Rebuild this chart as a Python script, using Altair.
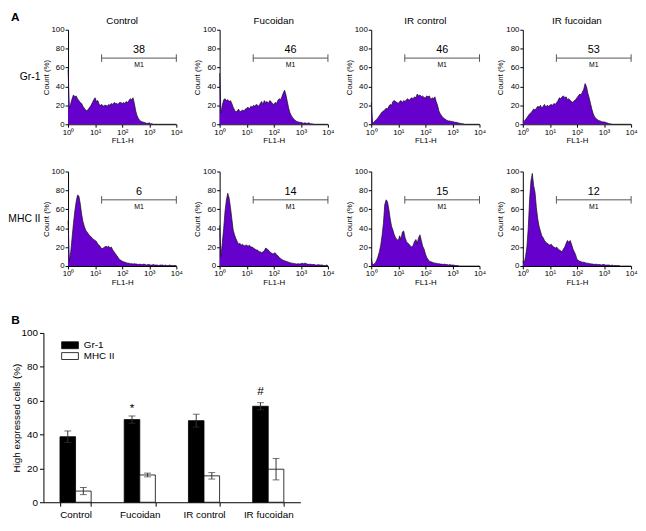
import altair as alt
import pandas as pd

FONT = "Liberation Sans"
PURPLE = "#6600cc"

conditions = ["Control", "Fucoidan", "IR control", "IR fucoidan"]
markers = ["Gr-1", "MHC II"]
decade_labels = ["10\u2070", "10\u00b9", "10\u00b2", "10\u00b3", "10\u2074"]

# Histogram heights, Count (%), one value every 0.05 decade from 10^0 to 10^4
gr1_control = [58, 17, 22, 27, 31, 29, 30, 27, 25, 23,
               22, 19, 17, 15, 14, 16, 18, 20, 23, 26,
               28, 24, 25, 21, 20, 21, 19, 20, 20, 19,
               21, 20, 22, 21, 23, 22, 22, 21, 23, 23,
               22, 23, 22, 24, 23, 25, 27, 26, 28, 22,
               14, 9, 6, 4, 3, 2.5, 2, 1.5, 1, 1,
               1.5, 0.5, 0.5, 0, 0, 0, 0, 0, 0, 0,
               0, 0, 0, 0, 0, 0, 0, 0, 0, 0,
               0]
gr1_fucoidan = [54, 12, 20, 26, 27, 25, 26, 24, 25, 22,
                18, 15, 13, 14, 16, 13, 14, 15, 14, 16,
                17, 18, 16, 19, 18, 20, 19, 21, 20, 19,
                22, 24, 21, 25, 23, 24, 22, 25, 24, 22,
                21, 23, 22, 25, 27, 26, 29, 33, 36, 31,
                24, 17, 12, 9, 7, 5, 4, 3, 2.5, 2,
                2, 1.5, 1, 1.5, 1, 1, 1.5, 0.5, 0.5, 0.3,
                0, 0, 0, 0, 0, 0, 0, 0, 0, 0,
                0]
gr1_ir_control = [23, 1, 2, 4, 5, 7, 9, 11, 13, 14,
                  15, 17, 16, 19, 21, 20, 24, 25, 24, 23,
                  22, 24, 25, 23, 25, 24, 26, 27, 25, 27,
                  28, 27, 29, 28, 32, 30, 31, 29, 30, 28,
                  28, 30, 29, 30, 26, 28, 27, 29, 24, 20,
                  14, 11, 9, 7, 6, 5, 4, 3.5, 3.5, 3,
                  3, 2.5, 2, 2, 1.5, 1, 1, 0.5, 0.5, 0,
                  0, 0, 0, 0, 0, 0, 0, 0, 0, 0,
                  0]
gr1_ir_fucoidan = [4, 3, 5, 7, 9, 11, 12, 14, 16, 15,
                   17, 19, 18, 20, 17, 19, 21, 18, 20, 19,
                   20, 21, 20, 22, 21, 23, 25, 28, 27, 29,
                   30, 28, 29, 26, 27, 25, 24, 23, 25, 26,
                   28, 30, 32, 31, 34, 37, 43, 40, 33, 28,
                   22, 16, 11, 8, 6, 5, 4, 3.5, 3, 2.5,
                   2.5, 2, 1.5, 1, 0.5, 0.5, 0, 0, 0, 0,
                   0, 0, 0, 0, 0, 0, 0, 0, 0, 0,
                   0]
mhc_control = [48, 5, 15, 30, 45, 58, 68, 75, 74, 66,
               55, 47, 42, 38, 36, 34, 32, 31, 29, 28,
               27, 26, 23, 22, 20, 18, 19, 20, 21, 20,
               21, 19, 20, 17, 15, 13, 11, 9, 7, 6,
               5, 4.5, 4, 3.5, 3, 3, 2.5, 2.5, 2, 2.5,
               2, 2, 1.5, 2, 1.5, 1.5, 2, 1.5, 1, 1.5,
               1.5, 1, 1, 1.5, 1, 1, 1, 0.5, 1, 1,
               1, 0.5, 1, 0.5, 0.5, 1, 0.5, 0.5, 0.5, 0.5,
               0.5]
mhc_fucoidan = [43, 10, 25, 40, 58, 70, 77, 72, 62, 50,
                38, 33, 29, 26, 23, 24, 22, 23, 21, 22,
                22, 21, 22, 20, 20, 19, 18, 17, 17, 15,
                15, 14, 15, 16, 19, 18, 17, 15, 14, 13,
                13, 14, 12, 11, 9, 8, 7, 6, 5.5, 5,
                4.5, 4, 3.5, 3, 3, 2.5, 2.5, 2, 2.5, 2,
                2.5, 3, 2.5, 3, 2.5, 2, 1.5, 2, 1.5, 1.5,
                1.5, 1, 1, 1.5, 1, 1, 1, 0.5, 0.5, 1,
                0.5]
mhc_ir_control = [8, 1, 2, 3, 6, 10, 15, 22, 32, 45,
                  65, 70, 68, 60, 50, 42, 38, 33, 30, 28,
                  27, 32, 28, 36, 37, 30, 26, 24, 23, 21,
                  20, 22, 26, 28, 24, 30, 33, 27, 21, 18,
                  13, 9, 7, 5, 4.5, 4, 3.5, 3, 3, 2.5,
                  2.5, 2, 2, 1.5, 2, 1.5, 1.5, 1, 1.5, 1,
                  1, 1, 0.5, 0.5, 0.5, 0, 0, 0, 0, 0,
                  0, 0, 0, 0, 0, 0, 0, 0, 0, 0,
                  0]
mhc_ir_fucoidan = [5, 3, 10, 20, 40, 70, 90, 98, 85, 78,
                   62, 50, 42, 37, 32, 30, 27, 25, 24, 23,
                   22, 23, 21, 20, 19, 20, 18, 17, 16, 15,
                   18, 20, 24, 27, 25, 27, 23, 18, 15, 12,
                   7, 6, 5, 4.5, 4, 4, 3.5, 3, 3, 2.5,
                   2.5, 2, 2, 1.5, 2, 1.5, 1.5, 1.5, 1, 1.5,
                   1.5, 1, 1, 1, 1, 0.5, 1, 0.5, 0.5, 0.5,
                   0.5, 0.5, 0, 0, 0, 0, 0, 0, 0, 0,
                   0]

# M1 gate percentages
m1_gr1 = [38, 46, 46, 53]
m1_mhc = [6, 14, 15, 12]

# Panel B
gr1_mean = [38.7, 48.8, 48.2, 56.7]
gr1_err = [3.4, 2.2, 3.8, 2.1]
mhc_mean = [6.6, 16.1, 15.6, 19.5]
mhc_err = [2.1, 1.1, 1.9, 6.3]
sig_text = ["", "*", "", "#"]
sig_y = [0, 55.4, 0, 65.5]

# ---------------- histogram table ----------------
hist_series = {
    ("Gr-1", "Control"): gr1_control,
    ("Gr-1", "Fucoidan"): gr1_fucoidan,
    ("Gr-1", "IR control"): gr1_ir_control,
    ("Gr-1", "IR fucoidan"): gr1_ir_fucoidan,
    ("MHC II", "Control"): mhc_control,
    ("MHC II", "Fucoidan"): mhc_fucoidan,
    ("MHC II", "IR control"): mhc_ir_control,
    ("MHC II", "IR fucoidan"): mhc_ir_fucoidan,
}
rows = []
for (mk, cd), vals in hist_series.items():
    for i, v in enumerate(vals):
        rows.append({"kind": "hist", "marker": mk, "cond": cd, "x": round(i * 0.05, 2), "y": v})
gate_lo, gate_hi, gate_y = 1.24, 4.0, 70
for mk, pcts in zip(markers, [m1_gr1, m1_mhc]):
    for cd, p in zip(conditions, pcts):
        rows.append({"kind": "gate", "marker": mk, "cond": cd, "x": gate_lo, "x2": gate_hi,
                     "y": gate_y, "ylo": gate_y - 4, "yhi": gate_y + 4,
                     "xm": (gate_lo + gate_hi) / 2, "ynum": 78, "ym1": 62.5, "label": str(p)})
for mk in markers:
    rows.append({"kind": "rowlabel", "marker": mk, "cond": conditions[0], "label": mk, "tag": "A"})
hdf = pd.DataFrame(rows)

xs = alt.Scale(domain=[0, 4], nice=False, zero=False)
ys = alt.Scale(domain=[0, 100], nice=False)
label_expr = "['" + "','".join(decade_labels) + "'][datum.value]"
x_axis = alt.Axis(values=[0, 1, 2, 3, 4], labelExpr=label_expr, title="FL1-H",
                  labelFontSize=8, titleFontSize=8, tickSize=3, labelPadding=1,
                  titlePadding=1, titleFontWeight="normal", labelFlush=False)
y_axis = alt.Axis(values=[0, 20, 40, 60, 80, 100], title="Count (%)",
                  labelFontSize=8, titleFontSize=8, tickSize=3, labelPadding=1,
                  titlePadding=1, titleFontWeight="normal", labelFlush=False)


def hx(field):
    return alt.X(field, type="quantitative", scale=xs, axis=x_axis)


def hy(field):
    return alt.Y(field, type="quantitative", scale=ys, axis=y_axis)


base = alt.Chart()
area = base.mark_area(color=PURPLE, opacity=1,
                      line={"color": "#111111", "strokeWidth": 0.7}).transform_filter(
    "datum.kind == 'hist'").encode(x=hx("x"), y=hy("y"))
gates = base.transform_filter("datum.kind == 'gate'")
gate_line = gates.mark_rule(color="#555555", strokeWidth=1).encode(
    x=hx("x"), x2="x2:Q", y=hy("y"))
cap_lo = gates.mark_rule(color="#555555", strokeWidth=1).encode(
    x=hx("x"), y=hy("ylo"), y2="yhi:Q")
cap_hi = gates.mark_rule(color="#555555", strokeWidth=1).encode(
    x=hx("x2"), y=hy("ylo"), y2="yhi:Q")
num = gates.mark_text(fontSize=11, font=FONT, color="black").encode(
    x=hx("xm"), y=hy("ynum"), text="label:N")
m1 = gates.mark_text(fontSize=7, font=FONT, color="black", text="M1").encode(
    x=hx("xm"), y=hy("ym1"))
rows_only = base.transform_filter("datum.kind == 'rowlabel'")
rowlab = rows_only.mark_text(
    fontSize=10.5, font=FONT, color="black", align="right", baseline="middle").encode(
    x=alt.value(-28), y=alt.value(48), text="label:N")
# panel letter "A" carried by an (entry-less looking) legend title
panel_tag = rows_only.mark_point(opacity=0, size=0).encode(
    x=alt.value(0), y=alt.value(0),
    shape=alt.Shape("tag:N", legend=alt.Legend(
        title="A", orient="none", legendX=-58, legendY=-18, titleFontSize=12,
        titleFont=FONT, titleFontWeight="bold", titleColor="black", titlePadding=0,
        padding=0, labelExpr="''", symbolOpacity=0, symbolSize=0,
        symbolStrokeWidth=0, labelFontSize=1)))

panel = alt.layer(area, gate_line, cap_lo, cap_hi, num, m1, rowlab, panel_tag,
                  data=hdf).properties(width=110, height=96)

grid = panel.facet(
    row=alt.Row("marker:N", sort=markers, header=alt.Header(title=None, labels=False)),
    column=alt.Column("cond:N", sort=conditions,
                      header=alt.Header(title=None, labelFontSize=10, labelFont=FONT, labelPadding=0)),
    spacing={"row": 23, "column": 10},
    align="each",
).resolve_axis(x="independent", y="independent")

# ---------------- bar chart ----------------
brows = []
for cd, gm, ge, mm, me in zip(conditions, gr1_mean, gr1_err, mhc_mean, mhc_err):
    brows.append({"cond": cd, "marker": "Gr-1", "v": gm, "lo": gm - ge, "hi": gm + ge})
    brows.append({"cond": cd, "marker": "MHC II", "v": mm, "lo": mm - me, "hi": mm + me})
bdf = pd.DataFrame(brows)
sdf = pd.DataFrame({"cond": conditions, "marker": ["Gr-1"] * 4, "t": sig_text, "y": sig_y})
sdf = sdf[sdf["t"] != ""]

SHIFT = 25  # bar plot starts this many px left of the histogram column
BW = 236
bx = alt.X("cond:N", sort=conditions,
           scale=alt.Scale(paddingInner=0.515, paddingOuter=0.2575, range=[-SHIFT, BW]),
           axis=alt.Axis(title=None, labelAngle=0, tickBand="extent", labelFontSize=10,
                         tickSize=4, labelPadding=3, domainColor="black"))
bxo = alt.XOffset("marker:N", sort=markers, scale=alt.Scale(paddingInner=0, paddingOuter=0))
bys = alt.Scale(domain=[0, 100], nice=False)
b_axis = alt.Axis(values=[0, 20, 40, 60, 80, 100], title="High expressed cells (%)",
                  labelFontSize=10, titleFontSize=10, tickSize=4, labelPadding=2,
                  titlePadding=0, titleFontWeight="normal", offset=SHIFT)


def by(field):
    return alt.Y(field, type="quantitative", scale=bys, axis=b_axis)


bars = alt.Chart(bdf).mark_bar(stroke="black", strokeWidth=0.8).encode(
    x=bx, xOffset=bxo, y=by("v"),
    color=alt.Color("marker:N", sort=markers,
                    scale=alt.Scale(domain=markers, range=["black", "white"]),
                    legend=alt.Legend(title=None, orient="none", legendX=-3.5, legendY=7,
                                      symbolType="M-1.7,-0.7L1.7,-0.7L1.7,0.7L-1.7,0.7Z",
                                      symbolSize=100, symbolStrokeColor="black",
                                      symbolStrokeWidth=0.8, labelFontSize=10,
                                      labelFont=FONT, rowPadding=0, labelOffset=8.5)))
err = alt.Chart(bdf).mark_rule(color="#333333", strokeWidth=1).encode(
    x=bx, xOffset=bxo, y=by("lo"), y2="hi:Q")
cap_top = alt.Chart(bdf).mark_tick(color="#333333", thickness=1, size=7).encode(
    x=bx, xOffset=bxo, y=by("hi"))
cap_bot = alt.Chart(bdf).mark_tick(color="#333333", thickness=1, size=7).encode(
    x=bx, xOffset=bxo, y=by("lo"))
sig = alt.Chart(sdf).mark_text(fontSize=12, font=FONT, color="black", baseline="middle").encode(
    x=bx, xOffset=bxo, y=by("y"), text="t:N")

barchart = alt.layer(bars, err, cap_top, cap_bot, sig).properties(
    width=BW, height=172,
    title=alt.TitleParams("B", anchor="start", frame="bounds", fontSize=12, fontWeight="bold",
                          font=FONT, offset=1))

chart = alt.vconcat(grid, barchart, spacing=28).resolve_legend(
    color="independent", shape="independent").properties(
    padding=0).configure(font=FONT).configure_view(stroke=None).configure_axis(
    domainColor="black", tickColor="black", labelColor="black", titleColor="black",
    grid=False, labelFont=FONT, titleFont=FONT).configure_header(labelColor="black")

chart.save("out.html", embed_options={"renderer": "svg", "actions": False})
